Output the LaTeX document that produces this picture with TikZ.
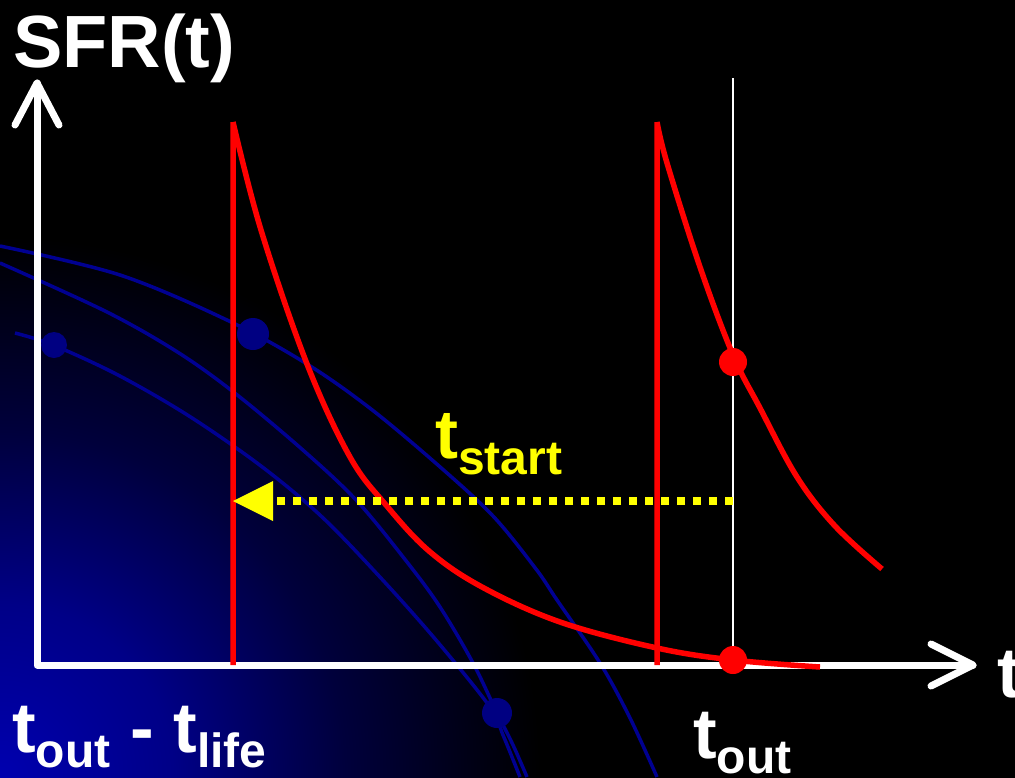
\documentclass[tikz,border=0pt]{standalone}
\usepackage{fontspec}
\setmainfont{Liberation Sans}
\usetikzlibrary{calc}
\definecolor{orbitblue}{RGB}{0,0,145}
\definecolor{dotblue}{RGB}{0,0,130}
\definecolor{redline}{RGB}{255,0,0}
\definecolor{yellowline}{RGB}{255,255,0}
\definecolor{glow0}{RGB}{0,0,175}
\definecolor{glow1}{RGB}{0,0,135}
\definecolor{glow2}{RGB}{0,0,60}
\pgfdeclareradialshading{bluecorner}{\pgfpoint{0bp}{0bp}}{%
  color(0bp)=(glow0); color(3.6bp)=(glow1); color(7.2bp)=(glow2); color(11.25bp)=(black); color(50bp)=(black)}
\newcommand\lowsub[2]{\raisebox{-#1pt}{\fontsize{48}{48}\selectfont #2}}
\tikzset{
  orbit/.style={draw=orbitblue, line width=3.5pt},
  orbitdot/.style={fill=dotblue},
  axisline/.style={draw=white, line width=7pt, line cap=round, line join=round},
  guide/.style={draw=white, line width=2.5pt},
  sfrcurve/.style={draw=redline, line width=5.5pt, line join=miter},
  reddot/.style={fill=redline},
  yellowdots/.style={draw=yellowline, line width=8pt, dash pattern=on 8pt off 8pt},
  lbl/.style={inner sep=0pt, anchor=base west, font=\bfseries\fontsize{71}{71}\selectfont, text=white},
}
\begin{document}
\begin{tikzpicture}[x=1pt,y=-1pt]
\useasboundingbox (0,0) rectangle (1015,777);
\fill[black] (0,0) rectangle (1015,777);
\begin{scope}
  \clip (0,0) rectangle (1015,777);
  \shade[shading=bluecorner] (0,777) circle (1200);
  % orbits
  \draw[orbit] plot[smooth, tension=0.55] coordinates {(0,246) (120,275) (229,321) (307,364) (371,409) (439,466) (493,516) (536,569) (557,600) (600,663) (630,718) (657,777)};
  \draw[orbit] plot[smooth, tension=0.55] coordinates {(0,263) (107,312) (179,353) (236,394) (304,451) (357,501) (407,562) (440,607) (473,663) (497,713) (513,745) (527,777)};
  \draw[orbit] plot[smooth, tension=0.55] coordinates {(15,333) (53,345) (118,375) (189,416) (261,466) (321,516) (379,576) (436,640) (490,707) (503,735) (520,777)};
  \fill[orbitdot] (253,334) circle (16);
  \fill[orbitdot] (54,345) circle (13);
  \fill[orbitdot] (497,713) circle (15);
\end{scope}
% coordinates
\coordinate (origin) at (37,665);
\coordinate (ytop) at (37,83);
\coordinate (xend) at (973,665);
\coordinate (guidetop) at (733,78);
\coordinate (guidebot) at (733,665);
% axes
\draw[axisline] (ytop) -- (origin) -- (xend);
\draw[axisline] (ytop) ++(-22,42) -- (ytop) -- +(22,42);
\draw[axisline] (xend) ++(-42,-21) -- (xend) -- +(-42,21);
% guide line at t_out
\draw[guide] (guidetop) -- (guidebot);
% red SFR curves
\draw[sfrcurve] (233,665) -- (233,122) plot[smooth, tension=0.6] coordinates {(233,122) (261,230) (307,364) (350,457) (386,505) (429,551) (482,587) (560,622) (657,648) (733,660) (820,667)};
\draw[sfrcurve] (657,665) -- (657,122) plot[smooth, tension=0.6] coordinates {(657,122) (667,163) (700,267) (733,355) (760,408) (797,477) (835,526) (882,569)};
\fill[reddot] (733,362) circle (14);
\fill[reddot] (733,660) circle (14);
% yellow arrow
\coordinate (ystart) at (733,501);
\coordinate (yend) at (233,501);
\draw[yellowdots] (ystart) -- ([xshift=40pt]yend);
\fill[yellowline] (yend) -- ++(40,-20) -- ++(0,40) -- cycle;
% labels
\node[lbl, font=\bfseries\fontsize{74}{74}\selectfont] (sfr) at (13,67) {SFR(t)};
\node[lbl, text=yellowline, font=\bfseries\fontsize{69}{69}\selectfont] (tstart) at (435,458) {t\lowsub{16}{start}};
\node[lbl] (tdiff) at (12,752) {t\lowsub{15}{out} - t\lowsub{15}{life}};
\node[lbl] (tout) at (693,758) {t\lowsub{15}{out}};
\node[lbl] (taxis) at (997,697) {t};
\end{tikzpicture}
\end{document}
